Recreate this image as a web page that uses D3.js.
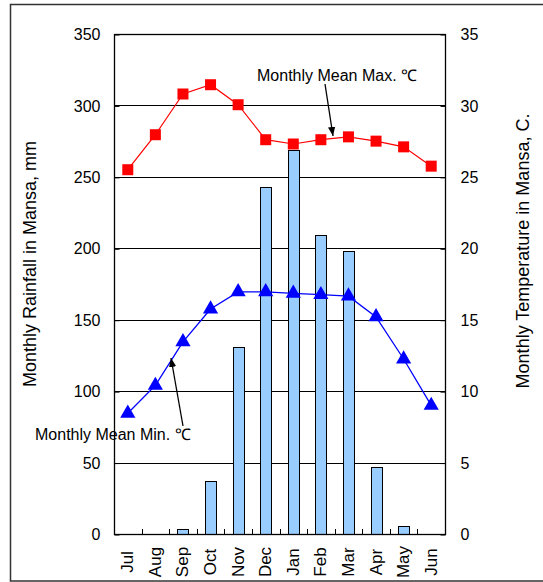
<!DOCTYPE html>
<html>
<head>
<meta charset="utf-8">
<script src="https://cdn.jsdelivr.net/npm/d3@7"></script>
<style>
  body { margin: 0; background: #fff; }
  svg text { font-family: "Liberation Sans", Arial, sans-serif; fill: #000; }
</style>
</head>
<body>
<div id="chart"></div>
<script>
/* DATA */
const months = ["Jul", "Aug", "Sep", "Oct", "Nov", "Dec", "Jan", "Feb", "Mar", "Apr", "May", "Jun"];
const rainfall = [0, 0, 3.5, 37, 131, 243, 269, 209, 198, 47, 5.5, 0];
const tempMax = [25.5, 27.95, 30.8, 31.45, 30.05, 27.6, 27.3, 27.6, 27.8, 27.5, 27.1, 25.75];
const tempMin = [8.45, 10.4, 13.45, 15.75, 16.95, 16.95, 16.85, 16.75, 16.65, 15.2, 12.25, 9.0];
const rainTicks = [0, 50, 100, 150, 200, 250, 300, 350];
const tempTicks = [0, 5, 10, 15, 20, 25, 30, 35];

/* LAYOUT */
const width = 543, height = 582;
const plot = { left: 114, right: 445, top: 34, bottom: 534 };
const fontSize = 16;

const svg = d3.select("#chart").append("svg")
  .attr("width", width)
  .attr("height", height);

// outer chart border
svg.append("rect")
  .attr("x", 10.5).attr("y", 4.5)
  .attr("width", 560).attr("height", 576.5)
  .attr("fill", "none")
  .attr("stroke", "#333")
  .attr("stroke-width", 1.5);

/* SCALES */
const xScale = d3.scaleBand()
  .domain(months)
  .range([plot.left, plot.right]);

const yRain = d3.scaleLinear()
  .domain([0, 350])
  .range([plot.bottom, plot.top]);

const yTemp = d3.scaleLinear()
  .domain([0, 35])
  .range([plot.bottom, plot.top]);

const cx = m => xScale(m) + xScale.bandwidth() / 2;

// gridlines
svg.append("g")
  .selectAll("line")
  .data(rainTicks.filter(d => d > 0 && d < 350))
  .join("line")
  .attr("x1", plot.left).attr("x2", plot.right)
  .attr("y1", d => Math.round(yRain(d)) + 0.5)
  .attr("y2", d => Math.round(yRain(d)) + 0.5)
  .attr("stroke", "#000")
  .attr("stroke-width", 1);

/* BARS */
const barW = xScale.bandwidth() * 0.4;
svg.append("g")
  .selectAll("rect")
  .data(months.map((m, i) => ({ month: m, value: rainfall[i] })).filter(d => d.value > 0))
  .join("rect")
  .attr("x", d => Math.round(cx(d.month) - barW / 2) + 0.5)
  .attr("y", d => Math.round(yRain(d.value)) + 0.5)
  .attr("width", Math.round(barW))
  .attr("height", d => plot.bottom - Math.round(yRain(d.value)))
  .attr("fill", "#99ccff")
  .attr("stroke", "#000")
  .attr("stroke-width", 1);

// plot frame
svg.append("rect")
  .attr("x", plot.left + 0.5).attr("y", plot.top + 0.5)
  .attr("width", plot.right - plot.left)
  .attr("height", plot.bottom - plot.top)
  .attr("fill", "none")
  .attr("stroke", "#000")
  .attr("stroke-width", 1.3);

/* AXES */
const leftAxis = d3.axisLeft(yRain).tickValues(rainTicks).tickSize(-5).tickPadding(14);
const rightAxis = d3.axisRight(yTemp).tickValues(tempTicks).tickSize(-5).tickPadding(15);

svg.append("g")
  .attr("class", "axis y-axis")
  .attr("transform", `translate(${plot.left + 0.5},0.5)`)
  .call(leftAxis)
  .call(g => g.select(".domain").remove())
  .call(g => g.selectAll("line").attr("stroke", "#000"))
  .call(g => g.selectAll("text").attr("font-size", fontSize).attr("font-family", null));

svg.append("g")
  .attr("class", "axis y2-axis")
  .attr("transform", `translate(${plot.right + 0.5},0.5)`)
  .call(rightAxis)
  .call(g => g.select(".domain").remove())
  .call(g => g.selectAll("line").attr("stroke", "#000"))
  .call(g => g.selectAll("text").attr("font-size", fontSize).attr("font-family", null));

// x ticks at category boundaries, pointing up
svg.append("g")
  .selectAll("line")
  .data(months.slice(1))
  .join("line")
  .attr("x1", d => Math.round(xScale(d)) + 0.5)
  .attr("x2", d => Math.round(xScale(d)) + 0.5)
  .attr("y1", plot.bottom)
  .attr("y2", plot.bottom - 5)
  .attr("stroke", "#000");

// rotated month labels
svg.append("g")
  .selectAll("text")
  .data(months)
  .join("text")
  .attr("transform", d => `translate(${cx(d) + 5.5},562) rotate(-90)`)
  .attr("text-anchor", "middle")
  .attr("font-size", 17)
  .text(d => d);

// axis titles
svg.append("text")
  .attr("transform", "translate(36,264) rotate(-90)")
  .attr("text-anchor", "middle")
  .attr("font-size", 18)
  .text("Monthly Rainfall in Mansa, mm");

svg.append("text")
  .attr("transform", "translate(529,251) rotate(-90)")
  .attr("text-anchor", "middle")
  .attr("font-size", 18)
  .text("Monthly Temperature in Mansa, C.");

/* LINES */
const tempLine = d3.line()
  .x((d, i) => cx(months[i]))
  .y(d => yTemp(d));

svg.append("path")
  .datum(tempMax)
  .attr("d", tempLine)
  .attr("fill", "none")
  .attr("stroke", "#ff0000")
  .attr("stroke-width", 1.2);

svg.append("path")
  .datum(tempMin)
  .attr("d", tempLine)
  .attr("fill", "none")
  .attr("stroke", "#0000ff")
  .attr("stroke-width", 1.3);

// square markers
const sq = 11;
svg.append("g")
  .selectAll("rect")
  .data(tempMax)
  .join("rect")
  .attr("x", (d, i) => cx(months[i]) - sq / 2)
  .attr("y", d => yTemp(d) - sq / 2)
  .attr("width", sq)
  .attr("height", sq)
  .attr("fill", "#ff0000");

// triangle markers
const tri = d3.symbol().type(d3.symbolTriangle).size(100);
svg.append("g")
  .selectAll("path")
  .data(tempMin)
  .join("path")
  .attr("transform", (d, i) => `translate(${cx(months[i])},${yTemp(d)})`)
  .attr("d", tri)
  .attr("fill", "#0000ff");

/* ANNOTATIONS */
svg.append("defs").append("marker")
  .attr("id", "arrow")
  .attr("viewBox", "0 0 10 10")
  .attr("refX", 10).attr("refY", 5)
  .attr("markerWidth", 7).attr("markerHeight", 7)
  .attr("orient", "auto")
  .append("path")
  .attr("d", "M0,1 L10,5 L0,9 z")
  .attr("fill", "#000");

svg.append("text")
  .attr("x", 257).attr("y", 81)
  .attr("font-size", 16)
  .text("Monthly Mean Max. \u2103");

svg.append("line")
  .attr("x1", 325).attr("y1", 84)
  .attr("x2", 333).attr("y2", 136)
  .attr("stroke", "#000")
  .attr("stroke-width", 1.3)
  .attr("marker-end", "url(#arrow)");

svg.append("text")
  .attr("x", 35).attr("y", 440)
  .attr("font-size", 16)
  .text("Monthly Mean Min. \u2103");

svg.append("line")
  .attr("x1", 183).attr("y1", 426)
  .attr("x2", 171).attr("y2", 358)
  .attr("stroke", "#000")
  .attr("stroke-width", 1.3)
  .attr("marker-end", "url(#arrow)");
</script>
</body>
</html>
